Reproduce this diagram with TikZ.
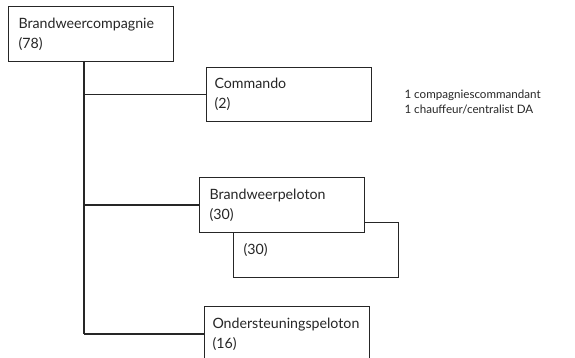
\documentclass[tikz,border=0pt]{standalone}
\usepackage{fontspec}
\setmainfont{Lato}
\begin{document}
\begin{tikzpicture}[x=1pt, y=-1pt,
  unitbox/.style={draw=black!85, line width=1pt, fill=white, anchor=north west,
    minimum width=165pt, minimum height=55pt, text width=145pt, inner xsep=10pt,
    align=left, text=black!85, font=\fontsize{14.2}{20}\selectfont},
  link/.style={draw=black!85, line width=1.8pt}]
\useasboundingbox (0,0) rectangle (575,358);
\clip (0,0) rectangle (575,358);
% boxes
\node [unitbox] (cie) at (8,6) {Brandweercompagnie\\(78)};
\node [unitbox, minimum height=54pt, inner xsep=8pt, text width=149pt]
  (cdo) at (206,67) {Commando\\(2)\\[-8pt]};
\node [unitbox] (pel2) at (233,222) {(30)};
\node [unitbox] (pel1) at (199,177) {Brandweerpeloton\\(30)};
\node [unitbox, inner xsep=8pt, text width=149pt]
  (ond) at (204,306) {Ondersteuningspeloton\\(16)};
\node [anchor=west, align=left, text=black!85, font=\fontsize{11.6}{15}\selectfont]
  (cdotxt) at (401,102) {1 compagniescommandant\\1 chauffeur/centralist DA};
% connectors
\coordinate (trunktop) at (84,61);
\coordinate (trunkbot) at (84,334);
\draw [link] (trunktop) -- (trunkbot);
\draw [link] (cdo.west) -- (cdo.west -| trunktop);
\draw [link] (pel1.west) -- (pel1.west -| trunktop);
\draw [link] (ond.west |- trunkbot) -- (trunkbot);
\end{tikzpicture}
\end{document}
